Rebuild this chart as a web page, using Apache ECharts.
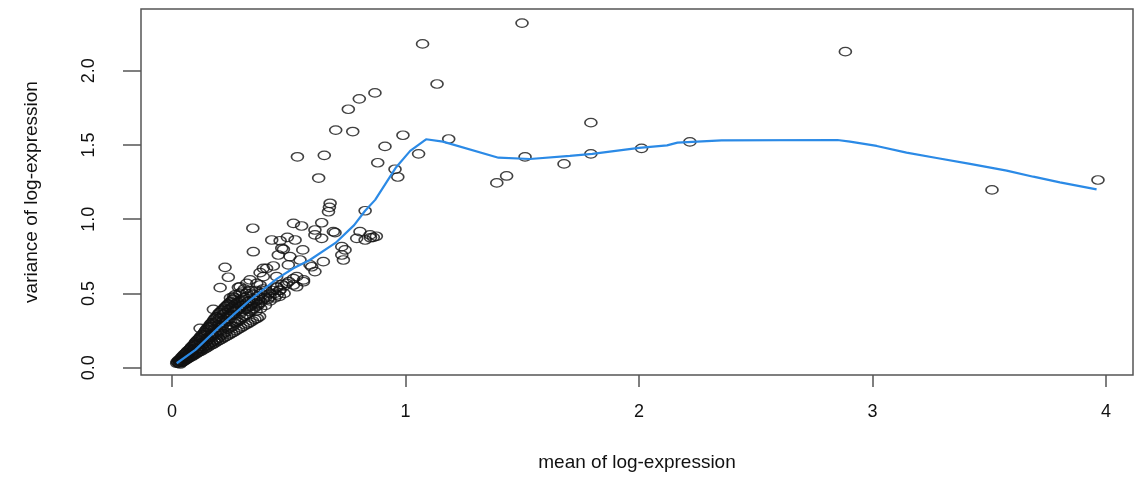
<!DOCTYPE html>
<html lang="en">
  <head>
    <meta charset="UTF-8" />
    <title>Mean-variance trend</title>
    <script src="https://cdn.jsdelivr.net/npm/echarts@6/dist/echarts.min.js"></script>
    <style>
      html, body { margin: 0; padding: 0; background: #fff; }
    </style>
  </head>
  <body>
    <div id="main" style="width: 1136px; height: 480px"></div>
    <script type="text/javascript">
      // tick positions
      var xTicks = [0, 1, 2, 3, 4];
      var yTicks = [0, 0.5, 1, 1.5, 2];

      // genes far from the cloud
      var outlierGenes = [
        [1.073, 2.18], [1.499, 2.32], [2.884, 2.128], [1.135, 1.91], [0.869, 1.85],
        [0.802, 1.81], [0.755, 1.74], [0.701, 1.6], [0.774, 1.59], [0.989, 1.565],
        [1.185, 1.54], [0.912, 1.49], [0.537, 1.42], [0.652, 1.43], [1.056, 1.44],
        [0.881, 1.38], [0.955, 1.336], [0.967, 1.284], [0.628, 1.277], [1.794, 1.65],
        [1.512, 1.419], [1.679, 1.372], [1.794, 1.44], [2.011, 1.477], [2.218, 1.52],
        [1.433, 1.291], [1.391, 1.244], [3.512, 1.197], [3.966, 1.264]
      ];

      // genes in the middle range
      var midGenes = [
        [0.677, 1.107], [0.674, 1.08], [0.67, 1.05], [0.827, 1.057], [0.52, 0.972],
        [0.555, 0.954], [0.641, 0.976], [0.612, 0.927], [0.346, 0.939], [0.698, 0.909],
        [0.805, 0.916], [0.848, 0.894], [0.791, 0.871], [0.827, 0.86], [0.862, 0.878],
        [0.85, 0.875], [0.875, 0.885], [0.427, 0.86], [0.463, 0.855], [0.494, 0.878],
        [0.527, 0.86], [0.612, 0.894], [0.641, 0.871], [0.477, 0.797], [0.56, 0.793],
        [0.727, 0.815], [0.741, 0.793], [0.727, 0.759], [0.734, 0.725], [0.348, 0.781],
        [0.455, 0.759], [0.505, 0.748], [0.548, 0.725], [0.498, 0.692], [0.591, 0.692],
        [0.612, 0.647], [0.648, 0.714], [0.391, 0.669], [0.434, 0.685], [0.391, 0.613],
        [0.448, 0.613], [0.534, 0.613], [0.563, 0.579], [0.52, 0.557], [0.363, 0.568],
        [0.463, 0.523], [0.691, 0.916], [0.47, 0.804], [0.598, 0.68], [0.227, 0.676],
        [0.241, 0.609], [0.563, 0.591], [0.491, 0.568], [0.448, 0.545], [0.206, 0.539],
        [0.291, 0.545], [0.334, 0.591], [0.377, 0.557], [0.263, 0.478], [0.32, 0.501],
        [0.42, 0.478], [0.37, 0.422], [0.177, 0.393], [0.12, 0.265], [0.284, 0.541],
        [0.32, 0.568], [0.377, 0.64], [0.405, 0.669], [0.534, 0.545], [0.48, 0.5],
        [0.41, 0.46], [0.45, 0.49], [0.4, 0.52], [0.35, 0.49], [0.38, 0.5], [0.36, 0.45]
      ];

      // dense low-expression cloud
      var cloudGenes = [
        [0.02, 0.03], [0.025, 0.035], [0.03, 0.03], [0.03, 0.045], [0.035, 0.04],
        [0.04, 0.05], [0.04, 0.035], [0.045, 0.06], [0.05, 0.045], [0.05, 0.07],
        [0.055, 0.06], [0.06, 0.08], [0.06, 0.055], [0.065, 0.07], [0.07, 0.09],
        [0.07, 0.065], [0.075, 0.1], [0.08, 0.08], [0.08, 0.11], [0.085, 0.09],
        [0.09, 0.12], [0.09, 0.085], [0.095, 0.13], [0.1, 0.1], [0.1, 0.15],
        [0.105, 0.115], [0.11, 0.16], [0.11, 0.105], [0.115, 0.13], [0.12, 0.18],
        [0.12, 0.12], [0.125, 0.145], [0.13, 0.2], [0.13, 0.13], [0.135, 0.16],
        [0.14, 0.22], [0.14, 0.14], [0.145, 0.175], [0.15, 0.24], [0.15, 0.15],
        [0.155, 0.19], [0.16, 0.26], [0.16, 0.16], [0.165, 0.205], [0.17, 0.28],
        [0.17, 0.17], [0.175, 0.22], [0.18, 0.3], [0.18, 0.18], [0.185, 0.235],
        [0.19, 0.31], [0.19, 0.19], [0.195, 0.25], [0.2, 0.33], [0.2, 0.2],
        [0.205, 0.27], [0.21, 0.22], [0.21, 0.34], [0.215, 0.28], [0.22, 0.23],
        [0.22, 0.36], [0.225, 0.3], [0.23, 0.24], [0.23, 0.37], [0.235, 0.31],
        [0.24, 0.26], [0.24, 0.39], [0.245, 0.33], [0.25, 0.27], [0.25, 0.4],
        [0.255, 0.35], [0.26, 0.28], [0.26, 0.41], [0.265, 0.36], [0.27, 0.3],
        [0.27, 0.43], [0.275, 0.38], [0.28, 0.31], [0.28, 0.44], [0.285, 0.39],
        [0.29, 0.32], [0.29, 0.45], [0.295, 0.41], [0.3, 0.34], [0.3, 0.46],
        [0.305, 0.42], [0.31, 0.35], [0.31, 0.47], [0.315, 0.43], [0.32, 0.36],
        [0.32, 0.48], [0.33, 0.38], [0.33, 0.45], [0.34, 0.39], [0.34, 0.5],
        [0.35, 0.4], [0.35, 0.46], [0.36, 0.41], [0.36, 0.52], [0.37, 0.43],
        [0.37, 0.48], [0.38, 0.44], [0.39, 0.46], [0.39, 0.53], [0.4, 0.47],
        [0.41, 0.49], [0.42, 0.5], [0.43, 0.52], [0.44, 0.5], [0.45, 0.54],
        [0.46, 0.52], [0.47, 0.56], [0.48, 0.55], [0.5, 0.58], [0.52, 0.6],
        [0.06, 0.1], [0.08, 0.13], [0.1, 0.17], [0.12, 0.2], [0.14, 0.24],
        [0.16, 0.28], [0.18, 0.26], [0.2, 0.29], [0.22, 0.32], [0.24, 0.35],
        [0.26, 0.38], [0.28, 0.4], [0.3, 0.42], [0.32, 0.44], [0.34, 0.43],
        [0.27, 0.33], [0.29, 0.36], [0.31, 0.39], [0.33, 0.41], [0.35, 0.44],
        [0.37, 0.46], [0.13, 0.17], [0.17, 0.23], [0.21, 0.25], [0.23, 0.28],
        [0.25, 0.31], [0.19, 0.22], [0.15, 0.2], [0.11, 0.13], [0.09, 0.1],
        [0.022, 0.04], [0.028, 0.05], [0.033, 0.055], [0.038, 0.065], [0.043, 0.075],
        [0.048, 0.08], [0.052, 0.09], [0.058, 0.095], [0.063, 0.105], [0.068, 0.115],
        [0.073, 0.12], [0.078, 0.125], [0.083, 0.14], [0.088, 0.145], [0.093, 0.155],
        [0.098, 0.16], [0.103, 0.175], [0.108, 0.185], [0.113, 0.19], [0.118, 0.2],
        [0.123, 0.21], [0.128, 0.22], [0.133, 0.225], [0.138, 0.235], [0.143, 0.25],
        [0.148, 0.26], [0.153, 0.27], [0.158, 0.275], [0.163, 0.29], [0.168, 0.3],
        [0.173, 0.305], [0.178, 0.32], [0.183, 0.33], [0.188, 0.34], [0.193, 0.345],
        [0.198, 0.36], [0.203, 0.37], [0.208, 0.375], [0.213, 0.385], [0.218, 0.39],
        [0.223, 0.4], [0.228, 0.41], [0.233, 0.415], [0.238, 0.425], [0.243, 0.43],
        [0.248, 0.44], [0.253, 0.445], [0.258, 0.455], [0.263, 0.46], [0.268, 0.47],
        [0.035, 0.025], [0.045, 0.038], [0.055, 0.048], [0.065, 0.058], [0.075, 0.068],
        [0.085, 0.075], [0.095, 0.085], [0.105, 0.095], [0.115, 0.105], [0.125, 0.112],
        [0.135, 0.122], [0.145, 0.13], [0.155, 0.14], [0.165, 0.15], [0.175, 0.158],
        [0.185, 0.168], [0.195, 0.178], [0.205, 0.186], [0.215, 0.195], [0.225, 0.205],
        [0.235, 0.213], [0.245, 0.222], [0.255, 0.232], [0.265, 0.24], [0.275, 0.25],
        [0.285, 0.26], [0.295, 0.268], [0.305, 0.278], [0.315, 0.288], [0.325, 0.296],
        [0.335, 0.305], [0.345, 0.315], [0.355, 0.325], [0.365, 0.333], [0.375, 0.345],
        [0.29, 0.5], [0.3, 0.51], [0.27, 0.49], [0.25, 0.47], [0.31, 0.53],
        [0.33, 0.52], [0.3, 0.38], [0.32, 0.4], [0.34, 0.42], [0.36, 0.38],
        [0.38, 0.4], [0.4, 0.42], [0.42, 0.45], [0.44, 0.47], [0.46, 0.48]
      ];

      // fitted trend
      var trendMean = [0.02, 0.1, 0.2, 0.334, 0.45, 0.52, 0.59, 0.7, 0.78, 0.827, 0.87, 0.96, 1.02,
        1.088, 1.16, 1.398, 1.533, 1.704, 1.8, 2.0, 2.12, 2.165, 2.354, 2.85, 2.904, 3.018,
        3.146, 3.275, 3.418, 3.575, 3.689, 3.803, 3.96];
      var trendVar = [0.03, 0.12, 0.27, 0.455, 0.6, 0.67, 0.725, 0.84, 0.96, 1.057, 1.13, 1.35, 1.46,
        1.538, 1.522, 1.414, 1.405, 1.426, 1.44, 1.48, 1.497, 1.515, 1.531, 1.533, 1.522, 1.493,
        1.448, 1.412, 1.372, 1.327, 1.286, 1.248, 1.201];

      var genePoints = cloudGenes.concat(midGenes, outlierGenes);
      var trendPoints = trendMean.map(function (m, i) {
        return [m, trendVar[i]];
      });

      var myChart = echarts.init(document.getElementById("main"));

      var textStyle = { fontFamily: "Liberation Sans, Arial, sans-serif", color: "#111" };

      var option = {
        animation: false,
        backgroundColor: "#fff",
        grid: {
          left: 141,
          right: 3,
          top: 9,
          bottom: 105,
          show: true,
          borderColor: "#555",
          borderWidth: 1.5,
        },
        xAxis: {
          type: "value",
          min: -0.133,
          max: 4.116,
          name: "mean of log-expression",
          nameLocation: "middle",
          nameGap: 78,
          nameMoveOverlap: false,
          nameTextStyle: Object.assign({ fontSize: 19 }, textStyle),
          axisLine: { show: false, onZero: false },
          splitLine: { show: false },
          axisTick: {
            show: true,
            length: 12,
            customValues: xTicks,
            lineStyle: { color: "#555", width: 1.5 },
          },
          axisLabel: Object.assign(
            { fontSize: 18, margin: 28, customValues: xTicks },
            textStyle
          ),
        },
        yAxis: {
          type: "value",
          min: -0.049,
          max: 2.415,
          name: "variance of log-expression",
          nameLocation: "middle",
          nameGap: 100,
          nameMoveOverlap: false,
          nameTextStyle: Object.assign({ fontSize: 19 }, textStyle),
          axisLine: { show: false, onZero: false },
          splitLine: { show: false },
          axisTick: {
            show: true,
            length: 18,
            customValues: yTicks,
            lineStyle: { color: "#555", width: 1.5 },
          },
          axisLabel: Object.assign(
            {
              fontSize: 18,
              margin: 43,
              rotate: 90,
              customValues: yTicks,
              formatter: function (v) {
                return v.toFixed(1);
              },
            },
            textStyle
          ),
        },
        series: [
          {
            name: "genes",
            type: "scatter",
            data: genePoints,
            symbol: "circle",
            symbolSize: [12, 8.5],
            itemStyle: {
              color: "rgba(0,0,0,0)",
              borderColor: "#111",
              borderWidth: 1.4,
            },
            z: 2,
          },
          {
            name: "trend",
            type: "line",
            data: trendPoints,
            showSymbol: false,
            lineStyle: { color: "#2b8ae6", width: 2.2 },
            z: 3,
          },
        ],
      };
      myChart.setOption(option);
    </script>
  </body>
</html>
